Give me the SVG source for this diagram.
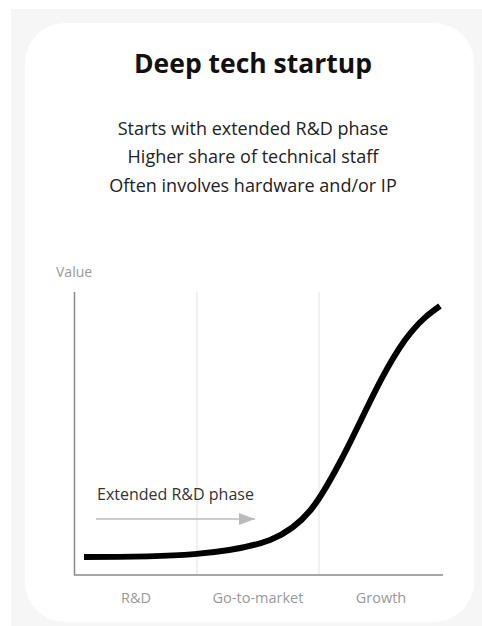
<svg xmlns="http://www.w3.org/2000/svg" width="482" height="626" viewBox="0 0 482 626">
<style>
.t{font-family:"Open Sans","Noto Sans","Liberation Sans",sans-serif}
.title{font-size:26.5px;font-weight:700;fill:#111}
.sub{font-size:18px;fill:#222}
.lab{font-size:14.5px;fill:#999}
.val{font-size:14px;fill:#999}
.ann{font-size:16px;fill:#333}
.grid{stroke:#e6e6e6;stroke-width:1.2}
.axis{stroke:#8a8a8a;stroke-width:1.5;fill:none}
</style>
<defs>
<marker id="ah" markerWidth="16" markerHeight="12" refX="16" refY="6" orient="auto" markerUnits="userSpaceOnUse">
<path d="M0,0 L16,6 L0,12 Z" fill="#bbbbbb"/>
</marker>
</defs>
<rect x="0" y="0" width="482" height="626" fill="#ffffff"/>
<rect x="11" y="9" width="471" height="617" fill="#f6f6f6"/>
<rect x="25" y="23" width="449" height="599" rx="40" ry="40" fill="#ffffff"/>
<g id="title">
<text class="t title" x="253" y="73" text-anchor="middle">Deep tech startup</text>
</g>
<g id="subtitle">
<text class="t sub" x="253" y="135" text-anchor="middle">Starts with extended R&amp;D phase</text>
<text class="t sub" x="253" y="163" text-anchor="middle">Higher share of technical staff</text>
<text class="t sub" x="253" y="192" text-anchor="middle">Often involves hardware and/or IP</text>
</g>
<g id="chart">
<text class="t val" x="56" y="277">Value</text>
<line class="grid" x1="197" y1="292" x2="197" y2="575"/>
<line class="grid" x1="319" y1="292" x2="319" y2="575"/>
<path class="axis" d="M74.5,292 L74.5,575 L443,575"/>
<text class="t lab" x="136" y="603" text-anchor="middle">R&amp;D</text>
<text class="t lab" x="258" y="603" text-anchor="middle">Go-to-market</text>
<text class="t lab" x="381" y="603" text-anchor="middle">Growth</text>
<path id="curve" d="M84,557 C170,557 230,555 270,540 C305,526 320,500 340,462 C360,425 380,375 405,340 C420,320 430,313 440,306" fill="none" stroke="#000" stroke-width="6"/>
</g>
<g id="annotation">
<text class="t ann" x="97" y="500">Extended R&amp;D phase</text>
<line x1="96" y1="519" x2="255" y2="519" stroke="#bbbbbb" stroke-width="1.5" marker-end="url(#ah)"/>
</g>
</svg>
